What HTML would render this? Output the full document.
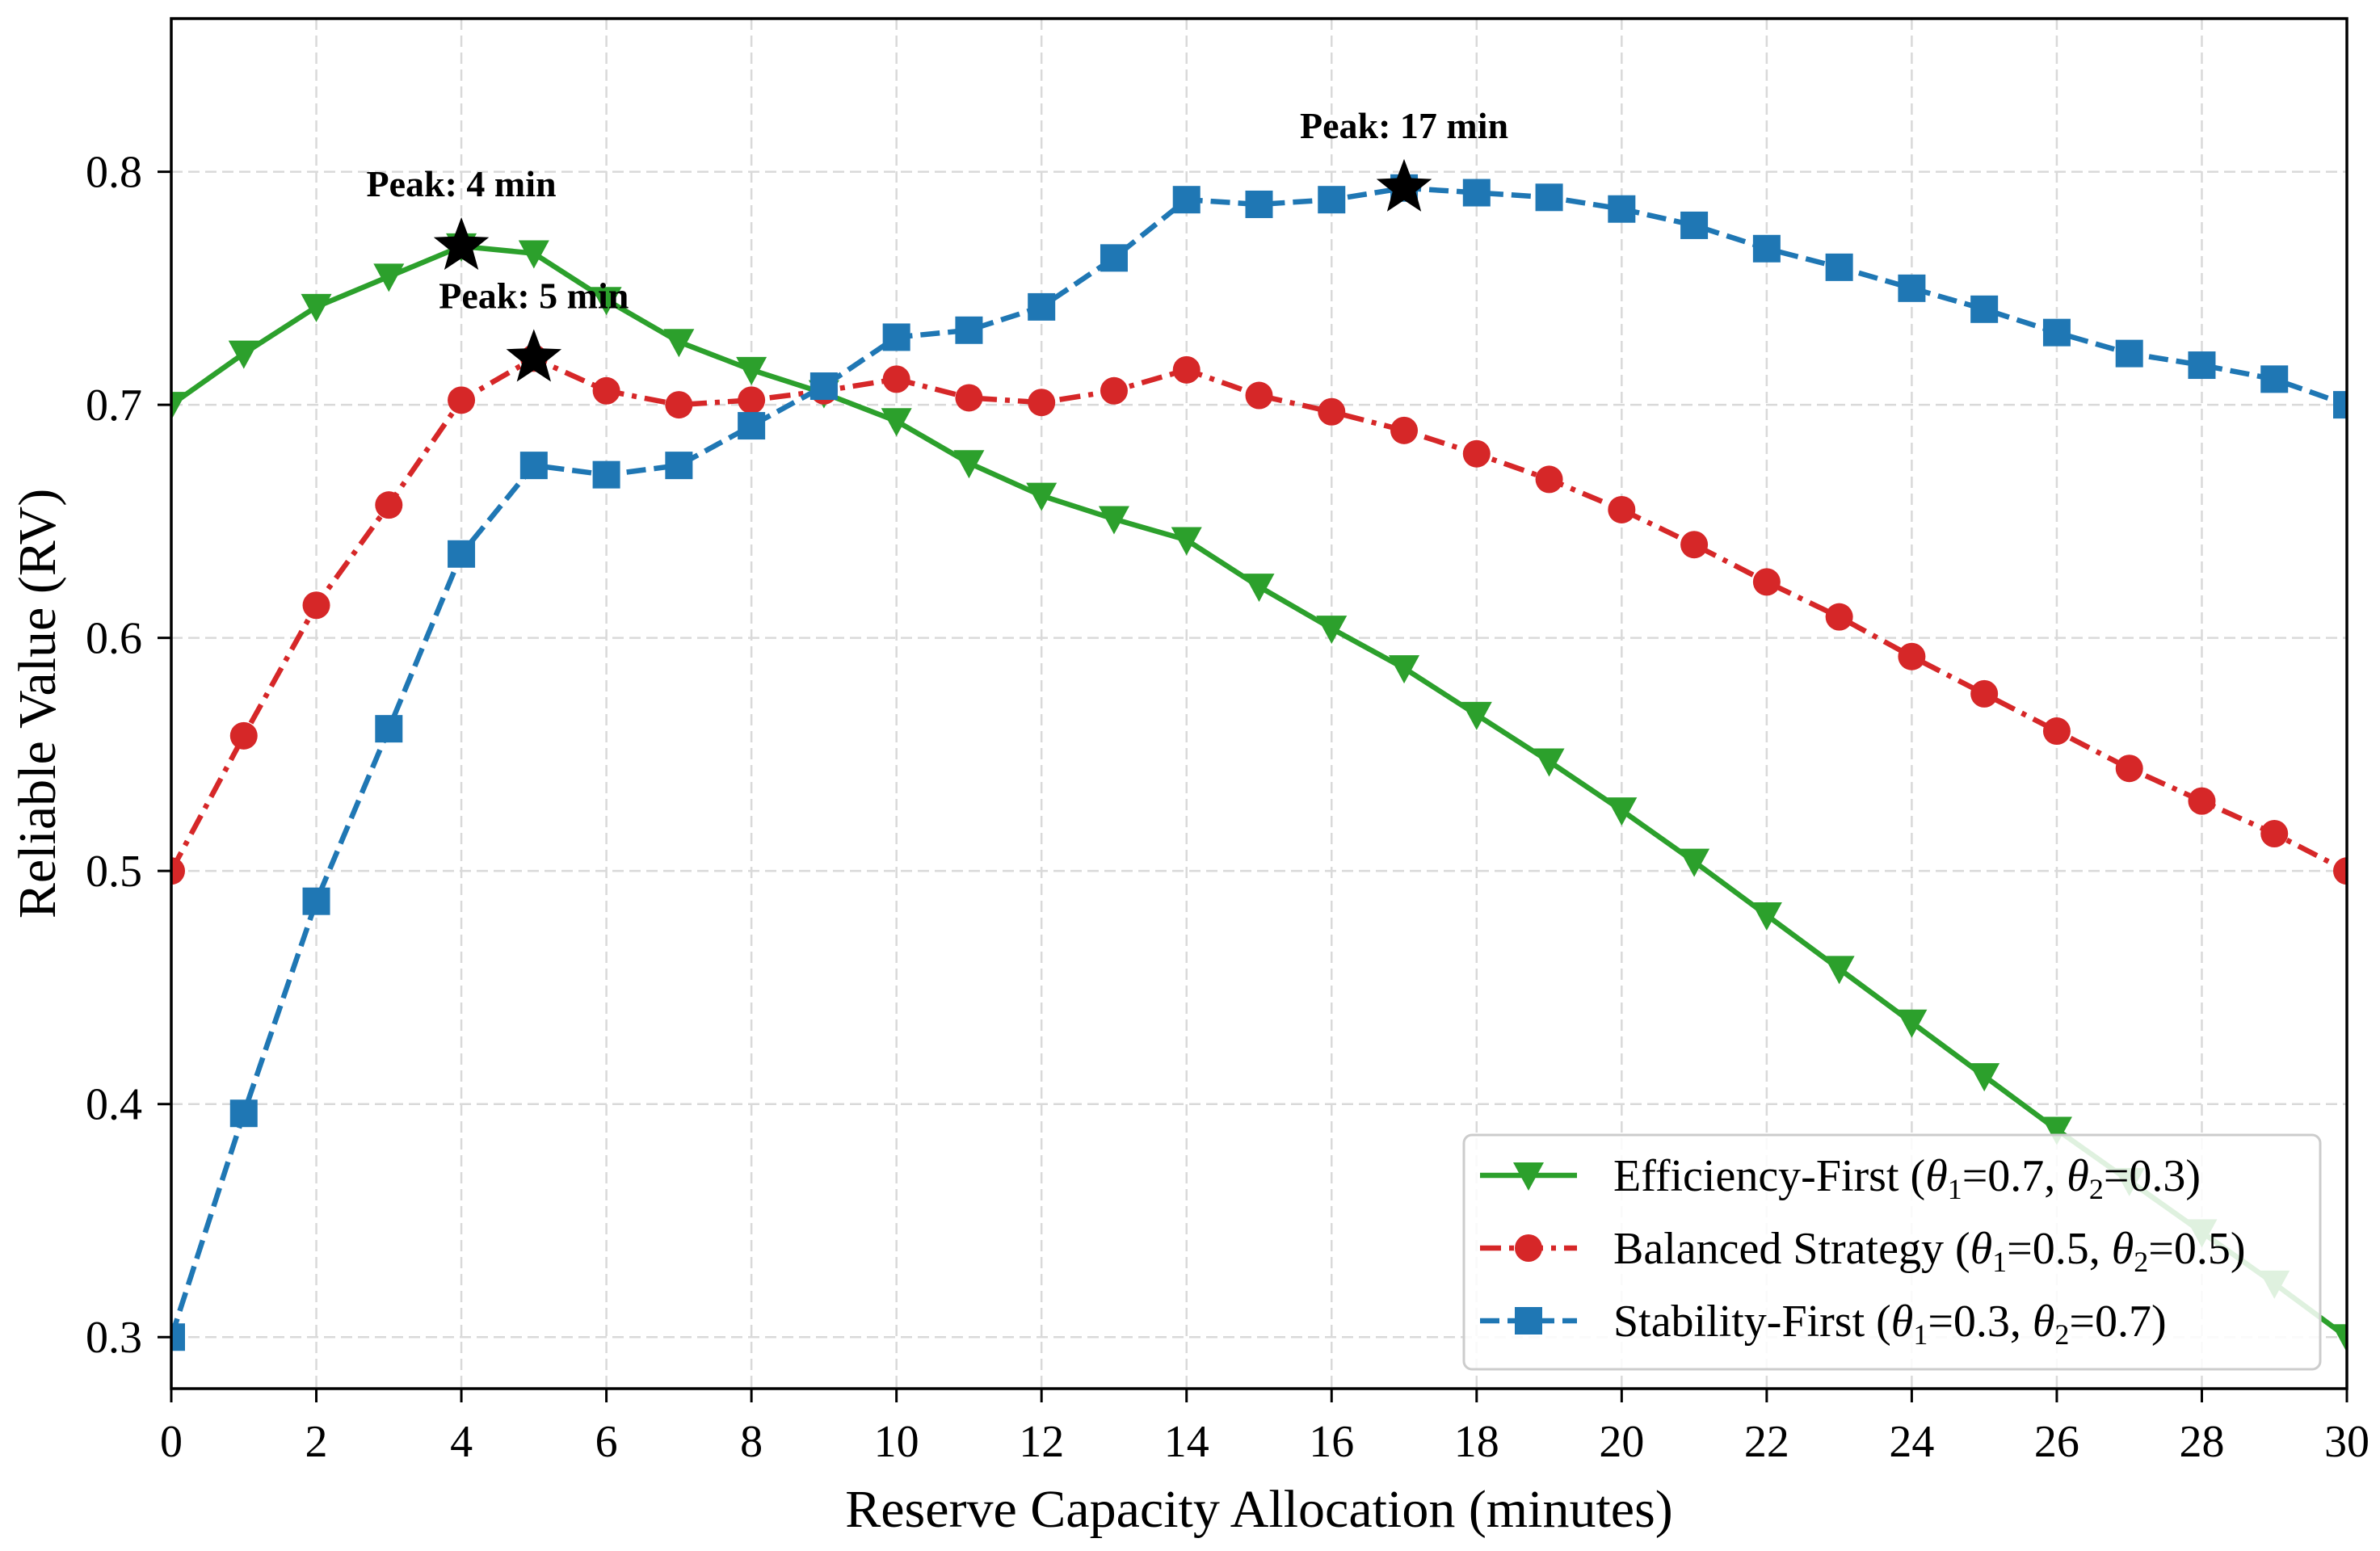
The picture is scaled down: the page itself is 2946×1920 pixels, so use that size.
<!DOCTYPE html>
<html><head><meta charset="utf-8"><style>
html,body{margin:0;padding:0;background:#fff}
svg{display:block;font-family:"Liberation Serif",serif}
</style></head><body>
<svg id="chart" width="2946" height="1920" viewBox="0 0 2946 1920"></svg>
<script>
const xValues = [0,1,2,3,4,5,6,7,8,9,10,11,12,13,14,15,16,17,18,19,20,21,22,23,24,25,26,27,28,29,30];
const efficiencyValues = [0.700,0.722,0.742,0.755,0.768,0.765,0.745,0.727,0.715,0.705,0.693,0.675,0.661,0.651,0.642,0.622,0.604,0.587,0.567,0.547,0.526,0.504,0.481,0.458,0.435,0.412,0.389,0.367,0.345,0.323,0.300];
const balancedValues = [0.500,0.558,0.614,0.657,0.702,0.720,0.706,0.700,0.702,0.706,0.711,0.703,0.701,0.706,0.715,0.704,0.697,0.689,0.679,0.668,0.655,0.640,0.624,0.609,0.592,0.576,0.560,0.544,0.530,0.516,0.500];
const stabilityValues = [0.300,0.396,0.487,0.561,0.636,0.674,0.670,0.674,0.691,0.708,0.729,0.732,0.742,0.763,0.788,0.786,0.788,0.793,0.791,0.789,0.784,0.777,0.767,0.759,0.750,0.741,0.731,0.722,0.717,0.711,0.700];
const xTicks = [0,2,4,6,8,10,12,14,16,18,20,22,24,26,28,30];
const yTicks = [0.3,0.4,0.5,0.6,0.7,0.8];
const yTickLabels = ["0.3","0.4","0.5","0.6","0.7","0.8"];
const peakX = [4,5,17];
const peakY = [0.768,0.720,0.793];
const peakLabels = ["Peak: 4 min","Peak: 5 min","Peak: 17 min"];

const L=212,R=2905,T=23,B=1719;
const X0=0,X1=30,Y0=0.2779,Y1=0.8657;
const sx=v=>L+(v-X0)/(X1-X0)*(R-L);
const sy=v=>B-(v-Y0)/(Y1-Y0)*(B-T);
const svg=document.getElementById('chart');
const NS='http://www.w3.org/2000/svg';
function mk(tag,attrs,parent){const e=document.createElementNS(NS,tag);for(const k in attrs)e.setAttribute(k,attrs[k]);(parent||svg).appendChild(e);return e;}

const grid=mk('g',{});


xTicks.forEach(t=>mk('line',{x1:sx(t),x2:sx(t),y1:T,y2:B,stroke:'#d9d9d9','stroke-width':2.5,'stroke-dasharray':'14,7'},grid));
yTicks.forEach(t=>mk('line',{x1:L,x2:R,y1:sy(t),y2:sy(t),stroke:'#d9d9d9','stroke-width':2.5,'stroke-dasharray':'14,7'},grid));

function star(cx,cy,r){let p=[];for(let i=0;i<10;i++){const a=-Math.PI/2+i*Math.PI/5;const rr=i%2?r*0.42:r;p.push((cx+rr*Math.cos(a)).toFixed(1)+','+(cy+rr*Math.sin(a)).toFixed(1));}return p.join(' ');}
function marker(g,type,cx,cy,col){
  if(type==='tri'){mk('polygon',{points:`${cx-19},${cy-16} ${cx+19},${cy-16} ${cx},${cy+19}`,fill:col},g);}
  else if(type==='circ'){mk('circle',{cx:cx,cy:cy,r:17,fill:col},g);}
  else {mk('rect',{x:cx-17,y:cy-17,width:34,height:34,fill:col},g);}
}
const series=[
  {name:'efficiency-first-series',vals:efficiencyValues,col:'#2ca02c',dash:'',m:'tri'},
  {name:'balanced-strategy-series',vals:balancedValues,col:'#d62728',dash:'26,10,6,10',m:'circ'},
  {name:'stability-first-series',vals:stabilityValues,col:'#1f77b4',dash:'24,10',m:'sq'}
];
const plotClip=mk('clipPath',{id:'pc'});mk('rect',{x:L,y:T,width:R-L,height:B-T},plotClip);
series.forEach(s=>{
  const g=mk('g',{'clip-path':'url(#pc)'});
  
  
  const d=xValues.map((x,i)=>(i?'L':'M')+sx(x).toFixed(1)+','+sy(s.vals[i]).toFixed(1)).join(' ');
  const ln=mk('path',{d:d,fill:'none',stroke:s.col,'stroke-width':6.5,'stroke-dasharray':s.dash},g);
  
  
  xValues.forEach((x,i)=>marker(g,s.m,sx(x),sy(s.vals[i]),s.col));
});

peakX.forEach((px,i)=>{
  const st=mk('polygon',{points:star(sx(px),sy(peakY[i]),36),fill:'#000'});
  
  
  const tx=mk('text',{x:sx(px),y:sy(peakY[i])-62,'text-anchor':'middle','font-size':46,'font-weight':'bold',fill:'#000'});
  tx.textContent=peakLabels[i];
  
  
});

const frame=mk('rect',{x:L,y:T,width:R-L,height:B-T,fill:'none',stroke:'#000','stroke-width':3.5});


xTicks.forEach(t=>{
  mk('line',{x1:sx(t),x2:sx(t),y1:B,y2:B+17,stroke:'#000','stroke-width':3});
  const tx=mk('text',{x:sx(t),y:B+84,'text-anchor':'middle','font-size':56,fill:'#000'});
  tx.textContent=String(t);
  
  
});
yTicks.forEach((t,i)=>{
  mk('line',{x1:L-17,x2:L,y1:sy(t),y2:sy(t),stroke:'#000','stroke-width':3});
  const tx=mk('text',{x:L-36,y:sy(t)+19,'text-anchor':'end','font-size':56,fill:'#000'});
  tx.textContent=yTickLabels[i];
  
  
});
const xt=mk('text',{x:(L+R)/2,y:1890,'text-anchor':'middle','font-size':66,fill:'#000'});
xt.textContent='Reserve Capacity Allocation (minutes)';


const yt=mk('text',{x:0,y:0,'text-anchor':'middle','font-size':66,fill:'#000',transform:`translate(68,${(T+B)/2}) rotate(-90)`});
yt.textContent='Reliable Value (RV)';



const lg=mk('g',{});


mk('rect',{x:1812,y:1405,width:1060,height:290,rx:10,fill:'rgba(255,255,255,0.85)',stroke:'#cccccc','stroke-width':3},lg);
const legTexts=[
  ['Efficiency-First (','=0.7, ','=0.3)'],
  ['Balanced Strategy (','=0.5, ','=0.5)'],
  ['Stability-First (','=0.3, ','=0.7)']
];
series.forEach((s,i)=>{
  const cy=1455+i*90;
  const e=mk('g',{},lg);
  
  
  mk('line',{x1:1832,x2:1952,y1:cy,y2:cy,stroke:s.col,'stroke-width':6.5,'stroke-dasharray':s.dash},e);
  marker(e,s.m,1892,cy,s.col);
  const t=mk('text',{x:1997,y:cy+19,'font-size':56,fill:'#000'},e);
  const parts=legTexts[i];
  const a=mk('tspan',{},t);a.textContent=parts[0];
  const th1=mk('tspan',{'font-style':'italic'},t);th1.textContent='θ';
  const s1=mk('tspan',{'font-size':36,dy:10},t);s1.textContent='1';
  const b=mk('tspan',{dy:-10},t);b.textContent=parts[1];
  const th2=mk('tspan',{'font-style':'italic'},t);th2.textContent='θ';
  const s2=mk('tspan',{'font-size':36,dy:10},t);s2.textContent='2';
  const c=mk('tspan',{dy:-10},t);c.textContent=parts[2];
});
</script>
</body></html>
